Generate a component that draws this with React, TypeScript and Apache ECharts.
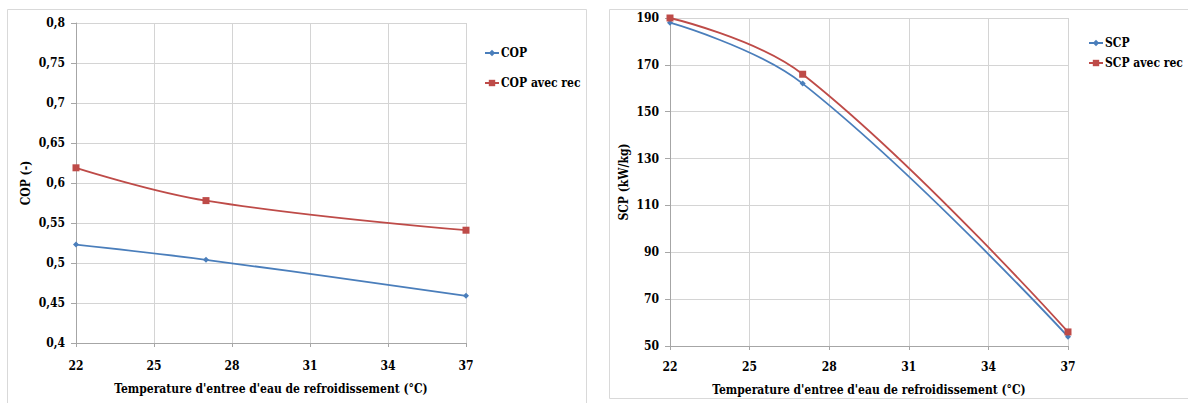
import React, { useEffect, useRef } from "react";
import * as echarts from "echarts";

const xTicks = [22, 25, 28, 31, 34, 37];
const temps = [22, 27, 37];
const cop = [0.523, 0.504, 0.459];
const copRec = [0.619, 0.578, 0.541];
const scp = [188, 162, 54];
const scpRec = [190, 166, 56];
const copTicks = [0.4, 0.45, 0.5, 0.55, 0.6, 0.65, 0.7, 0.75, 0.8];
const scpTicks = [50, 70, 90, 110, 130, 150, 170, 190];

const xTitle = "Temperature d'entree d'eau de refroidissement (°C)";
const FONT = "DejaVu Serif Condensed, DejaVu Serif";
const BLUE = "#4A7EBB";
const RED = "#BE4B48";
const GRID = "#D4D4D4";
const AXIS = "#A6A6A6";

const txt = { fontFamily: FONT, fontWeight: "bold" as const, fontSize: 12, color: "#000" };

const pairs = (xs: number[], ys: number[]) => xs.map((x, i) => [x, ys[i]]);

function xAxis(gridIndex: number, labelMargin: number, nameGap: number) {
  return {
    type: "value",
    gridIndex,
    min: 22,
    max: 37,
    name: xTitle,
    nameLocation: "middle",
    nameGap,
    nameTextStyle: { ...txt },
    axisLine: { show: true, lineStyle: { color: AXIS } },
    axisTick: { show: true, length: 4, lineStyle: { color: AXIS }, customValues: xTicks },
    axisLabel: { ...txt, margin: labelMargin, customValues: xTicks },
    splitLine: { show: true, lineStyle: { color: GRID } },
  };
}

function yAxis(gridIndex: number, min: number, max: number, ticks: number[], name: string, nameGap: number, fmt: (v: number) => string) {
  return {
    type: "value",
    gridIndex,
    min,
    max,
    name,
    nameLocation: "middle",
    nameGap,
    nameTextStyle: { ...txt },
    axisLine: { show: true, lineStyle: { color: AXIS } },
    axisTick: { show: true, length: 5, lineStyle: { color: AXIS }, customValues: ticks },
    axisLabel: { ...txt, margin: 11, customValues: ticks, formatter: fmt },
    splitLine: { show: true, lineStyle: { color: GRID } },
  };
}

function line(name: string, xi: number, data: number[][], color: string, symbol: string, size: number) {
  return {
    type: "line",
    name,
    xAxisIndex: xi,
    yAxisIndex: xi,
    data,
    smooth: 0.4,
    symbol,
    symbolSize: size,
    showSymbol: true,
    lineStyle: { color, width: 1.8 },
    itemStyle: { color },
  };
}

export default function App() {
  const ref = useRef<HTMLDivElement>(null);
  useEffect(() => {
    if (!ref.current) return;
    const chart = echarts.init(ref.current, null, { renderer: "svg" });
    chart.setOption({
      animation: false,
      backgroundColor: "#fff",
      textStyle: { fontFamily: FONT },
      graphic: [
        { type: "rect", shape: { x: 7.5, y: 9.5, width: 579, height: 400 }, style: { fill: "none", stroke: "#D9D9D9", lineWidth: 1 }, z: 0 },
        { type: "rect", shape: { x: 609.5, y: 9.5, width: 600, height: 389 }, style: { fill: "none", stroke: "#D9D9D9", lineWidth: 1 }, z: 0 },
      ],
      grid: [
        { left: 76, top: 23, width: 390, height: 320 },
        { left: 670, top: 18, width: 398, height: 328 },
      ],
      xAxis: [xAxis(0, 17, 40), xAxis(1, 15, 38)],
      yAxis: [
        yAxis(0, 0.4, 0.8, copTicks, "COP (-)", 44, (v: number) => v.toFixed(2).replace(/0$/, "").replace(".", ",")),
        yAxis(1, 50, 190, scpTicks, "SCP (kW/kg)", 40, (v: number) => String(v)),
      ],
      legend: [
        {
          orient: "vertical",
          left: 479,
          top: 40,
          itemWidth: 14,
          itemHeight: 8,
          itemGap: 14,
          data: ["COP", "COP avec rec"],
          textStyle: { ...txt, fontSize: 12, lineHeight: 16, padding: [0, 0, 0, -3] },
        },
        {
          orient: "vertical",
          left: 1083,
          top: 30,
          itemWidth: 14,
          itemHeight: 8,
          itemGap: 4,
          data: ["SCP", "SCP avec rec"],
          textStyle: { ...txt, fontSize: 12, lineHeight: 16, padding: [0, 0, 0, -3] },
        },
      ],
      series: [
        line("COP", 0, pairs(temps, cop), BLUE, "diamond", 6),
        line("COP avec rec", 0, pairs(temps, copRec), RED, "rect", 7),
        line("SCP", 1, pairs(temps, scp), BLUE, "diamond", 6),
        line("SCP avec rec", 1, pairs(temps, scpRec), RED, "rect", 7),
      ],
    });
    return () => chart.dispose();
  }, []);
  return <div ref={ref} style={{ position: "absolute", left: 0, top: 0, width: 1188, height: 403 }} />;
}
